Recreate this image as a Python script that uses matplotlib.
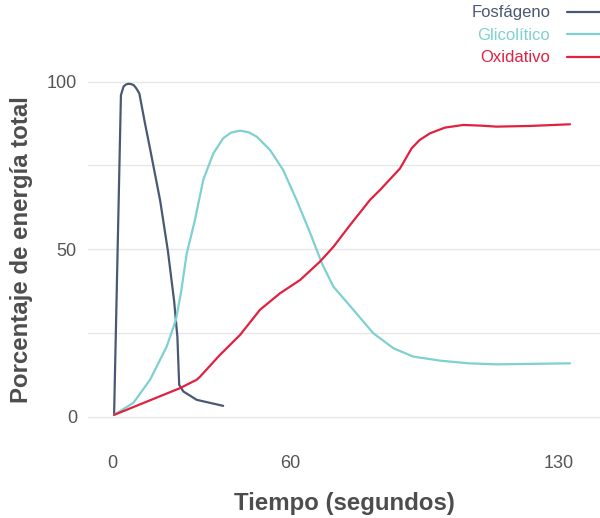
import matplotlib
matplotlib.use("Agg")
import matplotlib.pyplot as plt

plt.rcParams['font.family'] = ['Liberation Sans', 'DejaVu Sans']

# datos (x en la escala del eje, y en %)
fosf_x = [0.7, 3.0, 3.9, 4.7, 5.6, 6.4, 7.3, 8.2, 9.2, 11.0, 12.8, 16.2, 18.8, 20.9, 22.0, 22.6,
          24.0, 28.5, 37.4]
fosf_y = [0.5, 96.0, 98.6, 99.2, 99.4, 99.3, 99.0, 98.0, 96.5, 88.0, 80.0, 64.5, 49.5, 34.5, 23.8,
          9.5, 7.5, 5.0, 3.2]

gluc_x = [0.7, 7.2, 12.8, 18.4, 21.5, 23.2, 25.1, 27.9, 30.7, 34.1, 37.4, 40.0, 43.1, 46.0, 48.7,
          53.2, 57.6, 62.1, 66.6, 70.6, 74.5, 81.2, 87.9, 94.7, 101.4, 110.4, 120.0, 129.5, 154.1]
gluc_y = [0.5, 4.1, 11.0, 20.9, 28.9, 37.0, 48.5, 58.7, 70.7, 78.6, 83.1, 84.8, 85.4, 84.9, 83.6,
          79.6, 73.6, 64.7, 55.0, 45.8, 38.8, 31.9, 24.9, 20.4, 17.9, 16.7, 15.9, 15.6, 15.9]

oxid_x = [0.7, 22.9, 28.5, 29.6, 36.3, 43.1, 49.8, 56.5, 63.3, 70.0, 74.5, 80.1, 86.8, 90.2, 96.9,
          100.8, 103.5, 107.0, 112.0, 118.2, 124.0, 129.4, 140.6, 154.1]
oxid_y = [0.5, 8.5, 11.0, 11.9, 18.4, 24.4, 31.9, 36.8, 40.8, 46.3, 50.7, 57.2, 64.7, 67.7, 74.1,
          80.1, 82.6, 84.6, 86.3, 87.1, 86.9, 86.6, 86.8, 87.3]

series = ['Fosfágeno', 'Glicolítico', 'Oxidativo']
colores = ['#4b5873', '#7fd0d0', '#e0213f']

xticks_pos = [0, 60, 150.4]
xticks_lab = ['0', '60', '130']

fig = plt.figure(figsize=(6, 5.18), dpi=100)
ax = fig.add_axes([88 / 600, 78 / 518, 512 / 600, 380 / 518])

for x, y, nombre, c in zip([fosf_x, gluc_x, oxid_x], [fosf_y, gluc_y, oxid_y], series, colores):
    ax.plot(x, y, color=c, lw=1.6, label=nombre, solid_capstyle='round', solid_joinstyle='round')

ax.set_xlim(-8.08, 164.2)
ax.set_ylim(-7.0, 106.5)
ax.set_yticks([0, 25, 50, 75, 100])
ax.set_yticklabels(['0', '', '50', '', '100'])
ax.set_xticks(xticks_pos)
ax.set_xticklabels(xticks_lab)
ax.grid(axis='y', color='#e6e6e6', lw=1)
ax.grid(axis='x', visible=False)
for s in ax.spines.values():
    s.set_visible(False)
ax.tick_params(axis='both', length=0, labelsize=13, labelcolor='#555555')
ax.tick_params(axis='y', pad=8)
ax.tick_params(axis='x', pad=11)

ax.set_xlabel('Tiempo (segundos)', fontsize=17.3, fontweight='bold', color='#4d4d4d', labelpad=14)
ax.set_ylabel('Porcentaje de energía total', fontsize=17.3, fontweight='bold', color='#4d4d4d', labelpad=10)

fig.legend(loc='upper right', bbox_to_anchor=(1.017, 0.996), frameon=False, markerfirst=False,
           labelcolor='linecolor', fontsize=12, handlelength=2.4, handletextpad=1.0,
           labelspacing=0.45, borderaxespad=0, borderpad=0.2)

fig.savefig('out.png', dpi=100)
